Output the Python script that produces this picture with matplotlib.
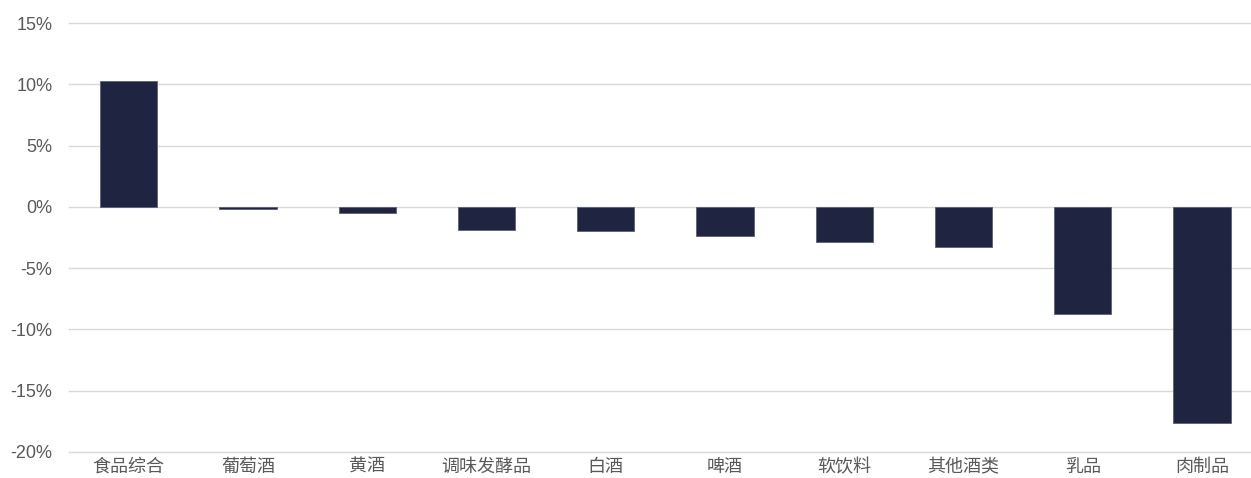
import matplotlib
matplotlib.use("Agg")
import matplotlib.pyplot as plt
import matplotlib.ticker as ticker
import numpy as np

plt.rcParams['font.family'] = ['Liberation Sans', 'Noto Sans CJK SC', 'DejaVu Sans']

categories = ["食品综合", "葡萄酒", "黄酒", "调味发酵品", "白酒", "啤酒", "软饮料", "其他酒类", "乳品", "肉制品"]
values = [10.3, -0.15, -0.5, -1.85, -1.93, -2.36, -2.85, -3.25, -8.78, -17.6]
y_ticks = [-20, -15, -10, -5, 0, 5, 10, 15]

fig = plt.figure(figsize=(12.51, 4.78), dpi=100)
ax = fig.add_axes([69 / 1251, 26 / 478, 1 - 69 / 1251, 429 / 478])

x = np.arange(len(categories))
ax.bar(x, values, width=0.48, color='#1F2440', edgecolor='#5a5f75', linewidth=0.6, zorder=3)

ax.set_ylim(-20, 15)
ax.set_xlim(-0.5, 9.41)
ax.set_yticks(y_ticks)
ax.yaxis.set_major_formatter(ticker.FuncFormatter(lambda v, p: f"{v:.0f}%"))
ax.grid(True, axis='y', color='#D9D9D9', lw=1, zorder=0)
for gl in ax.get_ygridlines():
    gl.set_clip_on(False)
ax.set_xticks(x)
ax.set_xticklabels(categories)
ax.tick_params(axis='both', length=0, labelsize=13, labelcolor='#595959')
ax.tick_params(axis='y', pad=12)
ax.tick_params(axis='x', pad=5)
for s in ax.spines.values():
    s.set_visible(False)

fig.savefig("out.png", dpi=100)
